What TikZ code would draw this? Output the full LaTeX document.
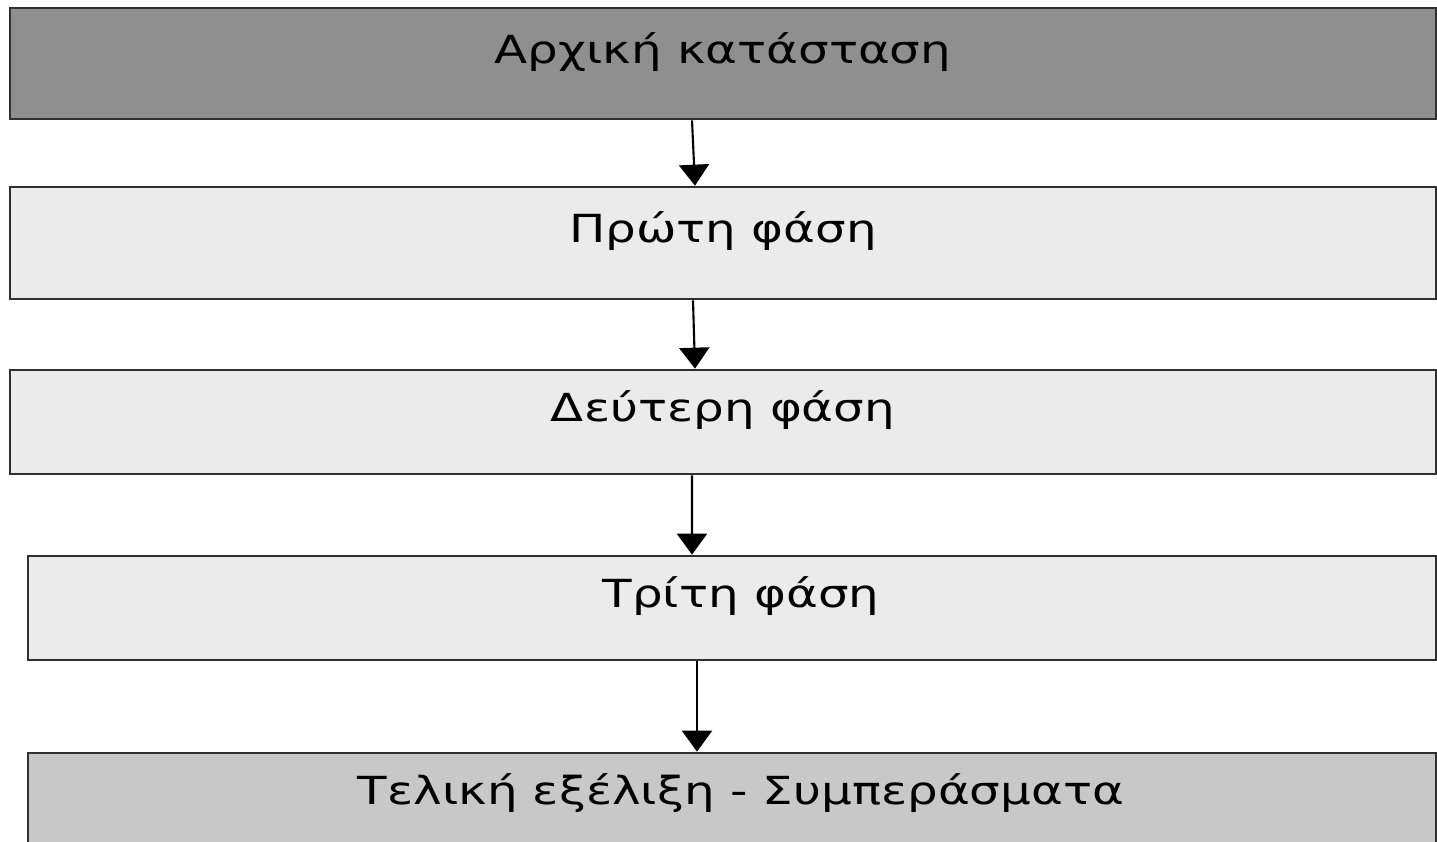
\documentclass[tikz,border=0pt]{standalone}
\usepackage{fontspec}
\usepackage{graphicx}
\setmainfont{DejaVu Sans}
\usetikzlibrary{arrows.meta}
\definecolor{darkbox}{HTML}{8F8F8F}
\definecolor{lightbox}{HTML}{EBEBEB}
\definecolor{endbox}{HTML}{C8C8C8}
\definecolor{rim}{HTML}{303030}
\newcommand{\wide}[1]{\scalebox{1.25}[1]{#1}}

\begin{document}
\begin{tikzpicture}[font=\fontsize{22}{26}\selectfont, -{Triangle[width=6mm,length=4.2mm]}]
	\tikzset{phase/.style={draw=rim, line width=1.5pt, fill=lightbox, rectangle, inner sep=0pt, text height=6mm, text depth=6mm, minimum width=28.52cm, minimum height=2.08cm}}
	\useasboundingbox (0,0) rectangle (28.74,16.84);
	\clip (0,0) rectangle (28.74,16.84);
	\node[phase, fill=darkbox, minimum height=2.22cm] (init) at (14.46,15.57) {\wide{Αρχική κατάσταση}};
	\node[phase, minimum height=2.24cm] (ph1) at (14.46,11.98) {\wide{Πρώτη φάση}};
	\node[phase] (ph2) at (14.46,8.40) {\wide{Δεύτερη φάση}};
	\node[phase, minimum width=28.16cm] (ph3) at (14.64,4.68) {\hspace*{3.6mm}\wide{Τρίτη φάση}};
	\node[phase, fill=endbox, minimum width=28.16cm] (final) at (14.64,0.74) {\hspace*{3.6mm}\wide{Τελική εξέλιξη - Συμπεράσματα}};
	\draw[line width=1.2pt] ([xshift=-6.2mm]init.south) -- ([xshift=-5.6mm]ph1.north);
	\draw[line width=1.2pt] ([xshift=-6mm]ph1.south) -- ([xshift=-5.6mm]ph2.north);
	\draw[line width=1.2pt] ([xshift=-6.2mm]ph2.south) -- ([xshift=-8mm]ph3.north);
	\draw[line width=1.2pt] ([xshift=-7mm]ph3.south) -- ([xshift=-7mm]final.north);
\end{tikzpicture}
\end{document}
